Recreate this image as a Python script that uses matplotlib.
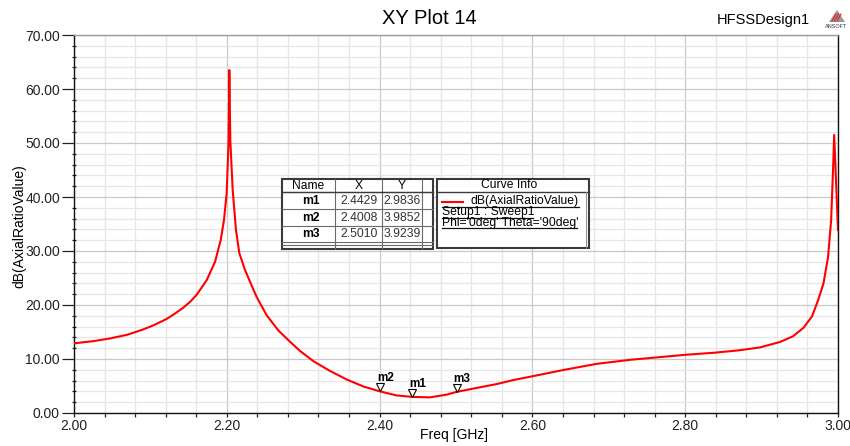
import matplotlib
matplotlib.use('Agg')
import matplotlib.pyplot as plt
from matplotlib.ticker import MultipleLocator, FormatStrFormatter
import matplotlib.transforms as mtrans
from matplotlib.patches import Rectangle, Polygon

plt.rcParams['font.family'] = ['Liberation Sans', 'DejaVu Sans']

# ---------------- data ----------------
freq = [2.000, 2.025, 2.047, 2.070, 2.091, 2.105, 2.121, 2.132, 2.143, 2.152,
        2.1606, 2.1737, 2.1846, 2.192, 2.1963, 2.1998, 2.2024, 2.2033, 2.2046, 2.2077,
        2.212, 2.2164, 2.2238, 2.2304, 2.239, 2.2522, 2.2674, 2.2827, 2.2958, 2.3133,
        2.335, 2.357, 2.379, 2.4008, 2.4224, 2.4429, 2.466, 2.4878, 2.501, 2.531,
        2.553, 2.575, 2.600, 2.640, 2.684, 2.728, 2.771, 2.802, 2.837, 2.870,
        2.898, 2.911, 2.924, 2.941, 2.955, 2.966, 2.974, 2.981, 2.987, 2.991,
        2.9935, 2.995, 3.000]
ar_db = [12.9, 13.3, 13.8, 14.5, 15.5, 16.3, 17.4, 18.4, 19.5, 20.6,
         21.9, 24.6, 28.0, 32.0, 35.7, 40.7, 50.5, 63.5, 50.5, 41.3,
         33.9, 29.6, 26.5, 24.3, 21.5, 18.1, 15.3, 13.2, 11.5, 9.6,
         7.8, 6.2, 4.9, 3.99, 3.25, 2.98, 2.9, 3.4, 3.92, 4.75,
         5.35, 6.1, 6.8, 7.95, 9.1, 9.85, 10.4, 10.8, 11.15, 11.6,
         12.15, 12.65, 13.15, 14.2, 15.8, 17.9, 20.9, 24.0, 28.9, 35.7,
         45.0, 51.5, 33.9]

marker_names = ['m1', 'm2', 'm3']
marker_x = [2.4429, 2.4008, 2.5010]
marker_y = [2.9836, 3.9852, 3.9239]

x_ticks_fmt = '%.2f'
title = 'XY Plot 14'
design = 'HFSSDesign1'
curve_name = 'dB(AxialRatioValue)'
setup_text = 'Setup1 : Sweep1'
var_text = "Phi='0deg' Theta='90deg'"

W, H = 850, 446
fig = plt.figure(figsize=(W / 100, H / 100), dpi=100)
fig.patch.set_facecolor('white')

L, R, T, B = 74, 838, 35, 413
ax = fig.add_axes([L / W, 1 - B / H, (R - L) / W, (B - T) / H])
ax.plot(freq, ar_db, color='#ff0000', lw=1.5, zorder=3, solid_joinstyle='round')
ax.set_xlim(2.0, 3.0)
ax.set_ylim(0, 70)
ax.xaxis.set_major_locator(MultipleLocator(0.2))
ax.xaxis.set_minor_locator(MultipleLocator(0.04))
ax.yaxis.set_major_locator(MultipleLocator(10))
ax.yaxis.set_minor_locator(MultipleLocator(2))
ax.xaxis.set_major_formatter(FormatStrFormatter(x_ticks_fmt))
ax.yaxis.set_major_formatter(FormatStrFormatter('%.2f'))
ax.grid(which='major', color='#c8c8c8', lw=0.9)
ax.grid(which='minor', color='#e6e6e6', lw=0.9)
ax.set_axisbelow(True)
ax.tick_params(axis='y', which='major', direction='out', length=8.6, width=0.9,
               pad=1.5, labelsize=10, colors='#222222')
ax.tick_params(axis='y', which='minor', direction='inout', length=3.4, width=0.9,
               color='#222222')
ax.tick_params(axis='x', which='major', direction='out', length=3, width=0.9,
               pad=1.5, labelsize=10, colors='#222222')
ax.tick_params(axis='x', which='minor', direction='out', length=3, width=0.9,
               color='#222222')
for s in ['left', 'bottom', 'right']:
    ax.spines[s].set_color('#111111')
    ax.spines[s].set_linewidth(1.0)
ax.spines['top'].set_color('#9a9a9a')
ax.spines['top'].set_linewidth(1.0)

# markers
trans = mtrans.offset_copy(ax.transData, fig=fig, x=0, y=4, units='dots')
ax.plot(marker_x, marker_y, 'v', ms=6, mfc='white', mec='black', mew=0.8,
        transform=trans, zorder=5, linestyle='none')
for n, mx, my in zip(marker_names, marker_x, marker_y):
    ax.annotate(n, (mx, my), xytext=(5, 13), textcoords='offset pixels',
                ha='center', va='center', fontsize=8.5, fontweight='bold', zorder=6)

# texts
fig.text(429 / W, 1 - 19 / H, title, fontsize=14.5, ha='center', va='center')
fig.text(763 / W, 1 - 20 / H, design, fontsize=10.5, ha='center', va='center')
fig.text(454 / W, 1 - 435 / H, 'Freq [GHz]', fontsize=10, ha='center', va='center')
fig.text(19 / W, 1 - 226 / H, 'dB(AxialRatioValue)', fontsize=10, ha='center',
         va='center', rotation=90)

# overlay (pixel coordinates) for table and logo
ov = fig.add_axes([0, 0, 1, 1], zorder=10)
ov.set_xlim(0, W)
ov.set_ylim(H, 0)
ov.axis('off')

# logo
ov.add_patch(Polygon([[829, 22], [837, 10], [845, 22]], closed=True,
                     facecolor='#9a9a9a', edgecolor='none'))
for k in range(3):
    ov.plot([832 + 2.5 * k, 836 + 2.5 * k], [21, 14], color='#dd2222', lw=0.8)
ov.text(836, 27, 'ANSOFT', fontsize=4, ha='center', va='center', color='#333333')

# marker table
tx = [282, 335, 382, 422, 433]
ty = [179, 192, 209, 225.7, 241.7, 245, 249]
ov.add_patch(Rectangle((tx[0], ty[0]), tx[-1] - tx[0], ty[-1] - ty[0],
                       facecolor='white', edgecolor='#3a3a3a', lw=1.5, zorder=1))
for yy in ty[1:-1]:
    ov.plot([tx[0], tx[-1]], [yy, yy], color='#6a6a6a', lw=0.8, zorder=2)
for xx in tx[1:-1]:
    ov.plot([xx, xx], [ty[0], ty[-1]], color='#6a6a6a', lw=0.8, zorder=2)
ov.plot([tx[0], tx[-1]], [ty[1], ty[1]], color='#3a3a3a', lw=1.0, zorder=2)
fs = 8.7
for j, h in enumerate(['Name', 'X', 'Y']):
    ov.text((tx[j] + tx[j + 1]) / 2, (ty[0] + ty[1]) / 2 + 0.5, h, fontsize=fs,
            ha='center', va='center', zorder=3)
for i, (n, mx, my) in enumerate(zip(marker_names, marker_x, marker_y)):
    yc = (ty[i + 1] + ty[i + 2]) / 2 + 0.5
    ov.text((tx[0] + tx[1]) / 2 + 2, yc, n, fontsize=fs, fontweight='bold',
            ha='center', va='center', zorder=3)
    ov.text((tx[1] + tx[2]) / 2 + 0.5, yc, '%.4f' % mx, fontsize=fs,
            ha='center', va='center', zorder=3, color='#333333')
    ov.text((tx[2] + tx[3]) / 2, yc, '%.4f' % my, fontsize=fs,
            ha='center', va='center', zorder=3, color='#333333')

# curve info box
cx0, cx1, cy0, cy1 = 437, 589, 179, 248
ov.add_patch(Rectangle((cx0, cy0), cx1 - cx0, cy1 - cy0, facecolor='white',
                       edgecolor='#3a3a3a', lw=1.5, zorder=1))
ov.plot([cx0, cx1], [192, 192], color='#3a3a3a', lw=1.0, zorder=2)
ov.plot([586, 586], [192, cy1], color='#8a8a8a', lw=0.7, zorder=2)
ov.text(509, 185.5, 'Curve Info', fontsize=fs, ha='center', va='center', zorder=3)
ov.plot([442, 463], [201.7, 201.7], color='#ff0000', lw=1.5, zorder=3)
ov.text(470.5, 201, curve_name, fontsize=fs, ha='left', va='center', zorder=3)
ov.plot([442, 579], [207.3, 207.3], color='#111111', lw=0.9, zorder=3)
ov.text(442, 211.5, setup_text, fontsize=fs, ha='left', va='center', zorder=3)
ov.plot([442, 533], [217.5, 217.5], color='#111111', lw=0.9, zorder=3)
ov.text(442, 223, var_text, fontsize=fs, ha='left', va='center', zorder=3)
ov.plot([442, 577], [228.3, 228.3], color='#111111', lw=0.9, zorder=3)

fig.savefig('out.png', dpi=100, facecolor='white')
